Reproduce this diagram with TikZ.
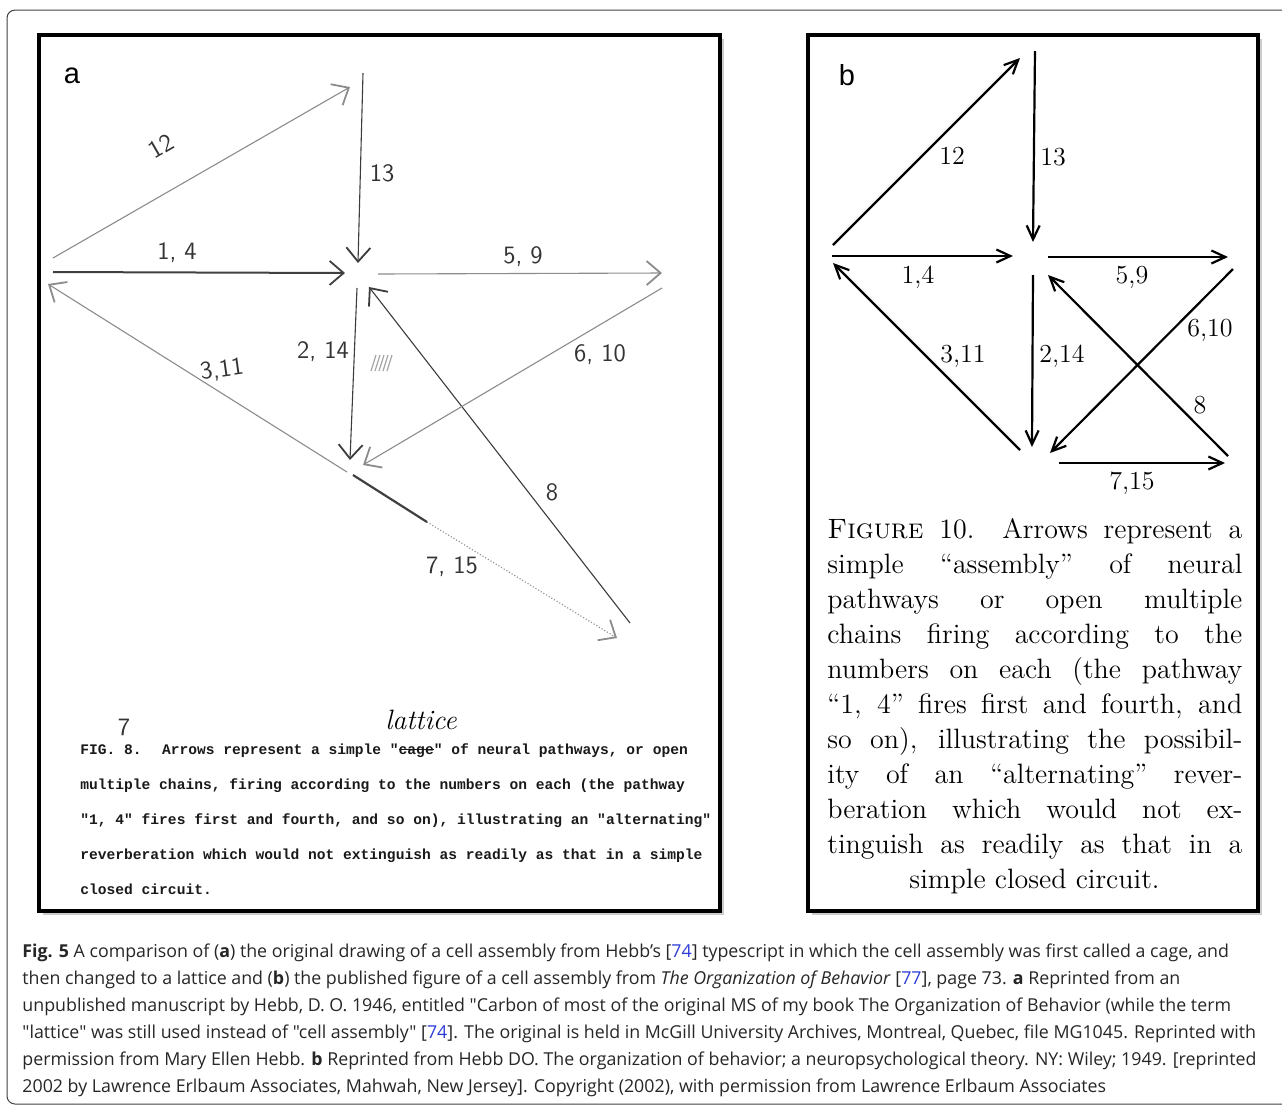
\documentclass[tikz,border=0pt]{standalone}
\usepackage{fontspec}
\usetikzlibrary{arrows.meta, calc, positioning, shadows}
\newfontfamily\capfont{Open Sans}
\newfontfamily\typefont{Liberation Mono}
\newfontfamily\tagfont{Liberation Sans}
\definecolor{citeblue}{RGB}{45,60,215}
\definecolor{pencilgray}{RGB}{60,60,60}
\newcommand{\struck}[1]{\makebox[0pt][l]{\rule[0.25em]{2.4em}{0.12em}}#1}

\begin{document}
\begin{tikzpicture}[x=0.5pt, y=-0.5pt,
  panelbox/.style={line width=2pt, fill=white,
    drop shadow={shadow xshift=2pt, shadow yshift=-2pt, opacity=0.4}},
  pencil/.style={draw=pencilgray, line width=0.55pt,
    -{Straight Barb[length=7pt, width=12pt, line width=0.9pt]}},
  faint/.style={draw=black!45},
  printed/.style={line width=1.1pt, -{Straight Barb[length=7pt, width=6.5pt]}},
  handnum/.style={font=\sffamily\fontsize{12.5}{13}\selectfont, text=black!80},
  booknum/.style={font=\fontsize{13}{13}\selectfont},
  tagletter/.style={font=\tagfont\fontsize{14.5}{15}\selectfont},
  typeline/.style={anchor=base west, inner sep=0pt, text=black!90,
    font=\typefont\bfseries\fontsize{7.3}{8}\selectfont},
  bookline/.style={anchor=base west, inner sep=0pt, font=\fontsize{14}{16}\selectfont},
  capline/.style={anchor=base west, inner sep=0pt, text=black!85,
    font=\capfont\fontsize{8.9}{10}\selectfont}]
\useasboundingbox (0,0) rectangle (1282,1105);
\draw[black!75, line width=0.5pt, rounded corners=4pt] (7,10) rectangle (1300,1104);

% panel a: the typescript with pencil arrows
\begin{scope}[shift={(37,33)}]
\draw[panelbox] (2,2) rectangle (683,878);
\node[tagletter] (taga) at (35,43) {a};
\coordinate (p12s) at (16,225);   \coordinate (p12e) at (313,54);
\coordinate (p13s) at (326,40);   \coordinate (p13e) at (321,230);
\coordinate (p14s) at (16,239);   \coordinate (p14e) at (308,240);
\coordinate (p59s) at (341,241);  \coordinate (p59e) at (625,240);
\coordinate (p311s) at (310,439); \coordinate (p311e) at (11,251);
\coordinate (p214s) at (320,255); \coordinate (p214e) at (313,427);
\coordinate (p610s) at (625,255); \coordinate (p610e) at (326,432);
\coordinate (p8s) at (593,590);   \coordinate (p8e) at (332,254);
\coordinate (p715s) at (316,442); \coordinate (p715m) at (390,489);
\coordinate (p715e) at (580,605);
\foreach \s/\e in {p13s/p13e, p214s/p214e, p8s/p8e}
  \draw[pencil] (\s) -- (\e);
\foreach \s/\e in {p12s/p12e, p59s/p59e, p610s/p610e, p311s/p311e}
  \draw[pencil, faint] (\s) -- (\e);
\draw[pencil, draw=black!75, line width=1pt] (p14s) -- (p14e);
\draw[draw=black!75, line width=1.1pt] (p715s) -- (p715m);
\draw[pencil, faint, densely dotted] (p715m) -- (p715e);
\foreach \d in {0,4,8,12,16}
  \draw[black!35, line width=0.6pt] (334+\d,338) -- (339+\d,322);
\node[handnum, rotate=30, inner sep=1pt] (l12) at (124,113) {12};
\node[handnum] (l13) at (345,140) {13};
\node[handnum] (l14) at (140,220) {1, 4};
\node[handnum] (l59) at (486,224) {5, 9};
\node[handnum, rotate=8] (l311) at (185,337) {3,11};
\node[handnum] (l214) at (286,319) {2, 14};
\node[handnum] (l610) at (563,322) {6, 10};
\node[handnum] (l8) at (515,459) {8};
\node[handnum] (l715) at (415,534) {7, 15};
\node[handnum] (fix7) at (87,694) {7};
\node[font=\itshape\fontsize{14}{14}\selectfont] (fixlat) at (384,687) {lattice};
\foreach \txt [count=\i from 0] in {
  {FIG. 8.~ Arrows represent a simple "\struck{cage}" of neural pathways, or open},
  {multiple chains, firing according to the numbers on each (the pathway},
  {"1, 4" fires first and fourth, and so on), illustrating an "alternating"},
  {reverberation which would not extinguish as readily as that in a simple},
  {closed circuit.}}
  \node[typeline] (type\i) at (43,721+35*\i) {\txt};
\end{scope}

% panel b: the printed figure
\begin{scope}[shift={(806,33)}]
\draw[panelbox] (2,2) rectangle (452,878);
\node[tagletter] (tagb) at (41,42) {b};
\coordinate (q12s) at (27,212);   \coordinate (q12e) at (214,25);
\coordinate (q13s) at (229,18);   \coordinate (q13e) at (227,209);
\coordinate (q14s) at (26,223);   \coordinate (q14e) at (207,223);
\coordinate (q59s) at (242,224);  \coordinate (q59e) at (422,224);
\coordinate (q311s) at (214,417); \coordinate (q311e) at (27,230);
\coordinate (q214s) at (227,242); \coordinate (q214e) at (226,414);
\coordinate (q610s) at (427,236); \coordinate (q610e) at (244,420);
\coordinate (q8s) at (422,423);   \coordinate (q8e) at (242,242);
\coordinate (q715s) at (253,430); \coordinate (q715e) at (419,430);
\foreach \s/\e in {q12s/q12e, q13s/q13e, q14s/q14e, q59s/q59e, q311s/q311e,
                   q214s/q214e, q610s/q610e, q8s/q8e, q715s/q715e}
  \draw[printed] (\s) -- (\e);
\node[booknum] (m12) at (146,123) {12};
\node[booknum] (m13) at (247,124) {13};
\node[booknum] (m14) at (112,244) {1,4};
\node[booknum] (m59) at (326,244) {5,9};
\node[booknum] (m311) at (157,323) {3,11};
\node[booknum] (m214) at (256,323) {2,14};
\node[booknum] (m610) at (404,297) {6,10};
\node[booknum] (m8) at (394,372) {8};
\node[booknum] (m715) at (326,450) {7,15};
\foreach \txt [count=\i from 0] in {
  {\textsc{Figure} 10.\quad Arrows represent a},
  {simple “assembly” of neural},
  {pathways or open multiple},
  {chains firing according to the},
  {numbers on each (the pathway},
  {“1, 4” fires first and fourth, and},
  {so on), illustrating the possibil-},
  {ity of an “alternating” rever-},
  {beration which would not ex-},
  {tinguish as readily as that in a}}
  \node[bookline] (book\i) at (21,505+35*\i) {\makebox[207.5pt][s]{\txt}};
\node[bookline, anchor=base] (book10) at (228.5,855) {simple closed circuit.};
\end{scope}

% caption below both panels
\foreach \txt [count=\i from 0] in {
  {\textbf{Fig. 5} A comparison of (\textbf{a}) the original drawing of a cell assembly from Hebb’s [\textcolor{citeblue}{74}] typescript in which the cell assembly was first called a cage, and},
  {then changed to a lattice and (\textbf{b}) the published figure of a cell assembly from \textit{The Organization of Behavior} [\textcolor{citeblue}{77}], page 73. \textbf{a} Reprinted from an},
  {unpublished manuscript by Hebb, D. O. 1946, entitled "Carbon of most of the original MS of my book The Organization of Behavior (while the term},
  {"lattice" was still used instead of "cell assembly" [\textcolor{citeblue}{74}]. The original is held in McGill University Archives, Montreal, Quebec, file MG1045. Reprinted with},
  {permission from Mary Ellen Hebb. \textbf{b} Reprinted from Hebb DO. The organization of behavior; a neuropsychological theory. NY: Wiley; 1949. [reprinted},
  {2002 by Lawrence Erlbaum Associates, Mahwah, New Jersey]. Copyright (2002), with permission from Lawrence Erlbaum Associates}}
  \node[capline] (cap\i) at (22,957+27*\i) {\txt};
\end{tikzpicture}
\end{document}
